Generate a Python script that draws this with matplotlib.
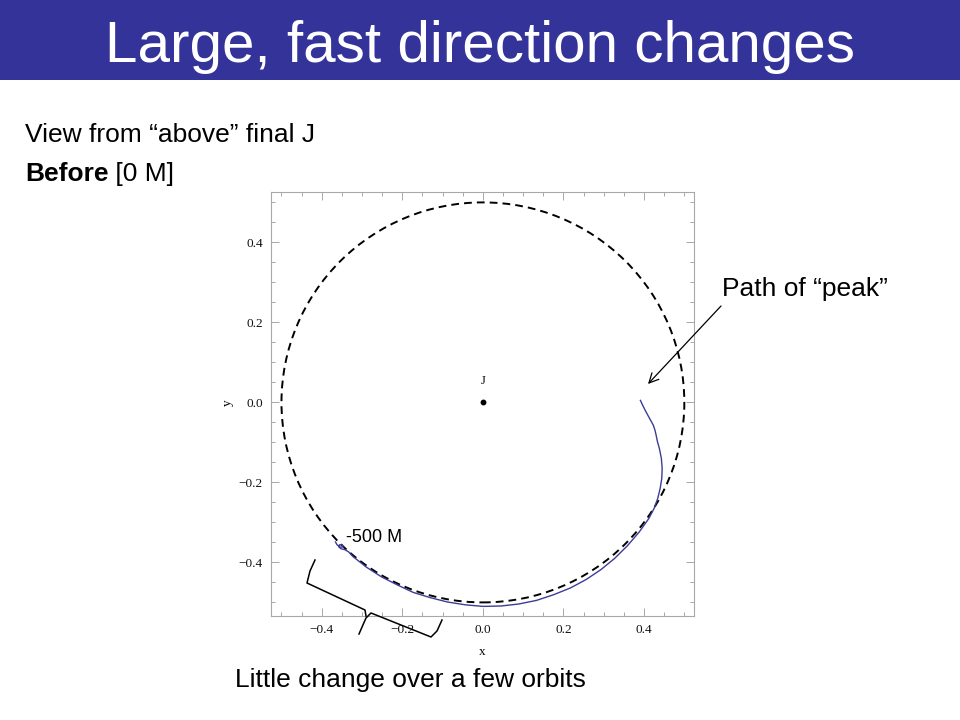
import matplotlib
matplotlib.use('Agg')
import matplotlib.pyplot as plt
from matplotlib.patches import Circle, Rectangle, FancyArrowPatch
from matplotlib.lines import Line2D

# ---- data ----
path_x = [-0.366, -0.362, -0.354, -0.347, -0.349, -0.356, -0.358, -0.352, -0.343, -0.333,
          -0.323, -0.289, -0.252, -0.213, -0.173, -0.131, -0.088, -0.044, 0.000, 0.045,
          0.089, 0.133, 0.175, 0.217, 0.256, 0.293, 0.327, 0.359, 0.388, 0.412,
          0.425, 0.434, 0.440, 0.444, 0.445, 0.443, 0.438, 0.433, 0.430, 0.427,
          0.423, 0.417, 0.411, 0.404, 0.397, 0.391]
path_y = [-0.349, -0.356, -0.362, -0.361, -0.356, -0.356, -0.361, -0.366, -0.368, -0.374,
          -0.385, -0.412, -0.436, -0.456, -0.475, -0.488, -0.499, -0.506, -0.510, -0.509,
          -0.504, -0.495, -0.481, -0.464, -0.443, -0.418, -0.390, -0.358, -0.324, -0.290,
          -0.265, -0.240, -0.215, -0.190, -0.165, -0.140, -0.115, -0.097, -0.082, -0.069,
          -0.057, -0.046, -0.035, -0.022, -0.008, 0.005]
circle_radius = 0.5
center_x = [0.0]
center_y = [0.0]
major_ticks = [-0.4, -0.2, 0.0, 0.2, 0.4]
tick_labels = ['\u22120.4', '\u22120.2', '0.0', '0.2', '0.4']
minor_ticks = [-0.5, -0.45, -0.35, -0.3, -0.25, -0.15, -0.1, -0.05,
               0.05, 0.1, 0.15, 0.25, 0.3, 0.35, 0.45, 0.5]
label_start = (-0.340, -0.339)
label_J = (0.0, 0.053)

W, H = 960, 720
fig = plt.figure(figsize=(9.6, 7.2), dpi=100)
fig.patch.set_facecolor('white')

def fx(px):
    return px / W

def fy(py):
    return 1 - py / H

SANS = 'Liberation Sans'
SERIF = 'Liberation Serif'

# header bar
fig.patches.append(Rectangle((0, fy(80)), 1, 80 / H, transform=fig.transFigure,
                             facecolor='#333399', edgecolor='none', zorder=0))
fig.text(0.5, fy(62), 'Large, fast direction changes', color='white', fontsize=42,
         family=SANS, ha='center', va='baseline')

# body text
fig.text(fx(25), fy(142), 'View from \u201cabove\u201d final J', fontsize=19, family=SANS,
         ha='left', va='baseline')
t_bold = fig.text(fx(25), fy(181), 'Before', fontsize=19, family=SANS, fontweight='bold',
                  ha='left', va='baseline')
renderer = fig.canvas.get_renderer()
bb = t_bold.get_window_extent(renderer=renderer)
fig.text(bb.x1 / W, fy(181), ' [0 M]', fontsize=19, family=SANS, ha='left', va='baseline')

fig.text(fx(722), fy(296), 'Path of \u201cpeak\u201d', fontsize=19, family=SANS,
         ha='left', va='baseline')
fig.text(fx(235), fy(687), 'Little change over a few orbits', fontsize=19, family=SANS,
         ha='left', va='baseline')

# axes
ax = fig.add_axes([271 / W, 1 - 616 / H, 423 / W, 424 / H])
ax.set_xlim(-0.526, 0.524)
ax.set_ylim(-0.534, 0.526)

ax.add_patch(Circle((0, 0), circle_radius, fill=False, linestyle=(0, (4, 2.6)),
                    linewidth=1.4, edgecolor='black', zorder=2))
ax.plot(path_x, path_y, color='#3c3c96', linewidth=1.0, zorder=3)
ax.plot(center_x, center_y, 'o', markersize=3.2, color='black', zorder=4)
ax.text(label_J[0], label_J[1], 'J', family=SERIF, fontsize=9, ha='center', va='center')
ax.text(label_start[0], label_start[1], '-500 M', family=SANS, fontsize=13,
        ha='left', va='center')

ax.set_xticks(major_ticks)
ax.set_yticks(major_ticks)
ax.set_xticks(minor_ticks, minor=True)
ax.set_yticks(minor_ticks, minor=True)
ax.set_xticklabels(tick_labels, family=SERIF, fontsize=9.5, color='#111111')
ax.set_yticklabels(tick_labels, family=SERIF, fontsize=9.5, color='#111111')
ax.tick_params(which='both', direction='in', top=True, right=True, color='#a8a8a8',
               width=0.7)
ax.tick_params(which='major', length=6, pad=6)
ax.tick_params(which='minor', length=3)
for s in ax.spines.values():
    s.set_color('#a8a8a8')
    s.set_linewidth(0.8)

fig.text(fx(482), fy(652), 'x', family=SERIF, fontsize=9.5, ha='center', va='center')
fig.text(fx(228), fy(403), 'y', family=SERIF, fontsize=9.5, ha='center', va='center',
         rotation=90)

# arrow to the path
fig.patches.append(FancyArrowPatch((fx(721), fy(306)), (fx(648), fy(384)),
                                   transform=fig.transFigure, arrowstyle='->',
                                   mutation_scale=17, linewidth=0.9, color='black',
                                   shrinkA=0, shrinkB=0, zorder=5))

# brace
bx1 = [315, 310, 307, 365, 366]
by1 = [560, 571, 583, 610, 616]
bx2 = [359, 366, 371, 431, 437, 442]
by2 = [634, 618, 613, 637, 631, 620]
fig.add_artist(Line2D([fx(v) for v in bx1], [fy(v) for v in by1],
                      transform=fig.transFigure, color='black', linewidth=1.1, zorder=5))
fig.add_artist(Line2D([fx(v) for v in bx2], [fy(v) for v in by2],
                      transform=fig.transFigure, color='black', linewidth=1.1, zorder=5))

fig.savefig('out.png', dpi=100)
